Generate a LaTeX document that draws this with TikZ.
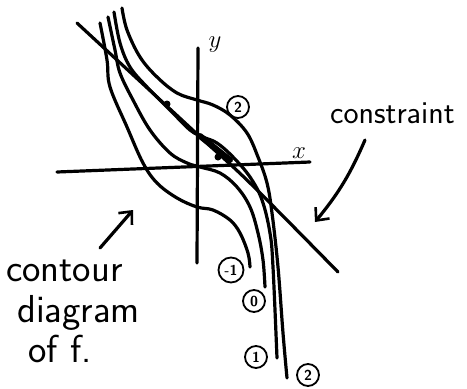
\documentclass[tikz,border=0pt]{standalone}
\usetikzlibrary{positioning, arrows.meta}

\begin{document}
\begin{tikzpicture}[
    x=1pt, y=-1pt,
    ink/.style={line width=3.2pt, line cap=round, line join=round},
    level/.style={draw, circle, line width=1.8pt, inner sep=0pt,
        minimum size=22pt, font=\sffamily\bfseries\Large},
    note/.style={font=\sffamily\fontsize{39}{41}\selectfont, inner sep=0pt},
    axlabel/.style={font=\fontsize{24}{26}\selectfont\bfseries, inner sep=0pt},
    >={Straight Barb[length=10pt, width=18pt, line width=2.6pt]}
]
\useasboundingbox (0,0) rectangle (467,389);

%% ── Axes ─────────────────────────────────────────────────────────────────────
\draw[ink] (57,172) -- (310,162);
\draw[ink] (198,48) -- (197,263);
\node[axlabel] (xlab) at (299,153) {$x$};
\node[axlabel] (ylab) at (215,45) {$y$};

%% ── Contours of f ────────────────────────────────────────────────────────────
% level -1
\draw[ink] plot[smooth, tension=0.6] coordinates {
    (100,23) (107,60) (110,87) (127,127) (143,163) (157,183) (177,198)
    (197,207) (213,210) (230,220) (240,233) (248,253) (250,267)};
% level 0
\draw[ink] plot[smooth, tension=0.6] coordinates {
    (108,17) (115,50) (120,73) (133,100) (150,130) (170,153) (187,163)
    (200,167) (220,173) (237,187) (250,207) (258,233) (263,260) (265,287)};
% level 1
\draw[ink] plot[smooth, tension=0.6] coordinates {
    (114,12) (120,43) (130,67) (147,87) (170,110) (190,130) (203,137)
    (217,143) (233,157) (250,177) (262,200) (270,233) (273,267) (277,358)};
% level 2
\draw[ink] plot[smooth, tension=0.6] coordinates {
    (122,8) (127,30) (140,57) (157,77) (177,93) (197,100) (213,105)
    (230,115) (247,133) (258,157) (267,183) (272,213) (278,267) (283,333)
    (287,378)};

%% ── Constraint line ──────────────────────────────────────────────────────────
\draw[ink] plot[smooth, tension=0.5] coordinates {
    (77,23) (197,134) (250,183) (338,272)};
\draw[line width=6pt, line cap=round] (200,136) -- (230,160);
\fill (167,104) circle (3.5pt);
\fill (218,157) circle (3.5pt);

%% ── Level tags ───────────────────────────────────────────────────────────────
\node[level] (tagTwoUp) at (238,107) {2};
\node[level, minimum size=25pt] (tagMinus) at (231,270) {-1};
\node[level] (tagZero) at (254,301) {0};
\node[level] (tagOne) at (256,357) {1};
\node[level] (tagTwo) at (308,375) {2};

%% ── Notes ────────────────────────────────────────────────────────────────────
\node[note, font=\sffamily\fontsize{32}{34}\selectfont, anchor=base west]
    (conLabel) at (330,123) {constraint};
\coordinate (conTip) at (315,222);
\draw[ink, ->] ([xshift=35pt, yshift=-17pt]conLabel.base west)
    to[bend left=8] (conTip);

\node[note, anchor=base west] (fLabel) at (6,281) {contour};
\node[note, anchor=base west] (fLabelB) at (17,322) {diagram};
\node[note, anchor=base west] (fLabelC) at (28,362) {of\,\,f.};
\coordinate (fTip) at (133,210);
\draw[ink, ->] ([xshift=94pt, yshift=33pt]fLabel.base west) -- (fTip);

\end{tikzpicture}
\end{document}
